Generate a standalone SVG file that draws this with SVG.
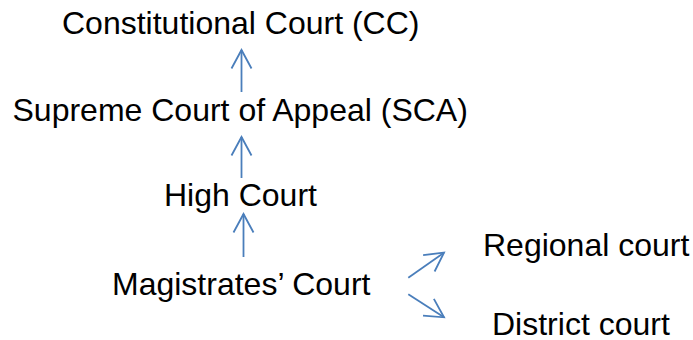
<svg xmlns="http://www.w3.org/2000/svg" width="693" height="340" viewBox="0 0 693 340">
<style>
.t{font-family:"Liberation Sans",Arial,sans-serif;font-size:32px;fill:#000}
.c{stroke:#4a7ebb;stroke-width:1.8;fill:none}
</style>
<defs>
<marker id="ah" markerUnits="userSpaceOnUse" markerWidth="24" markerHeight="24" viewBox="-21 -12 24 24" refX="0" refY="0" orient="auto" overflow="visible">
<path d="M-18.5,-10 L0,0 L-18.5,10" fill="none" stroke="#4a7ebb" stroke-width="1.8" stroke-linejoin="miter"/>
</marker>
</defs>
<rect width="693" height="340" fill="#fff"/>
<g id="connectors">
<path class="c" d="M241.5,92 L241.5,50" marker-end="url(#ah)"/>
<path class="c" d="M241.5,178 L241.5,137" marker-end="url(#ah)"/>
<path class="c" d="M243.5,257 L243.5,214" marker-end="url(#ah)"/>
<path class="c" d="M408.3,277.7 L444,252.7" marker-end="url(#ah)"/>
<path class="c" d="M408.3,294.3 L444,317.3" marker-end="url(#ah)"/>
</g>
<g id="cc"><text class="t" x="62" y="34">Constitutional Court (CC)</text></g>
<g id="sca"><text class="t" x="12.5" y="121">Supreme Court of Appeal (SCA)</text></g>
<g id="high"><text class="t" x="164" y="206">High Court</text></g>
<g id="magistrates"><text class="t" x="112" y="295">Magistrates’ Court</text></g>
<g id="regional"><text class="t" x="483" y="256">Regional court</text></g>
<g id="district"><text class="t" x="492" y="335">District court</text></g>
</svg>
